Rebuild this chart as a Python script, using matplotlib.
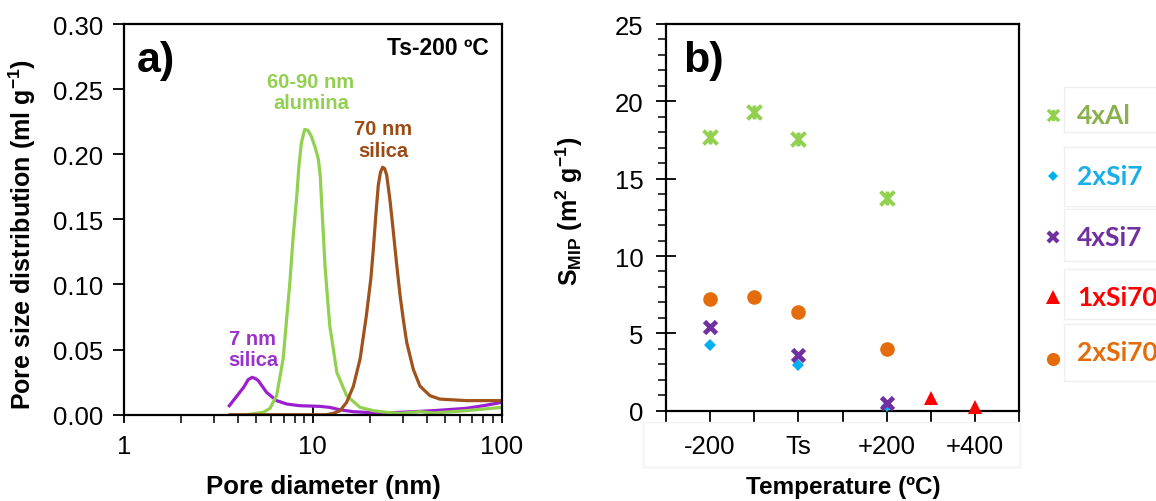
import matplotlib
matplotlib.use('Agg')
import matplotlib.pyplot as plt
from matplotlib.path import Path
from matplotlib.patches import Rectangle

plt.rcParams['font.family'] = 'Liberation Sans'
plt.rcParams['mathtext.fontset'] = 'custom'
plt.rcParams['mathtext.rm'] = 'Liberation Sans:bold'
plt.rcParams['mathtext.it'] = 'Liberation Sans:bold'
plt.rcParams['mathtext.bf'] = 'Liberation Sans:bold'
plt.rcParams['mathtext.default'] = 'rm'

# DATA #######################################################################

# panel a) pore size distributions, pore diameter (nm) vs ml/g
si7_d = [3.61, 4.3, 4.55, 4.78, 5.0, 5.15, 5.7, 6.43, 7.27, 8.55, 10.9, 12.3,
         13.9, 16.4, 19.2, 23.6, 29, 43.5, 65, 80, 100]
si7_v = [0.0069, 0.021, 0.027, 0.0287, 0.0275, 0.026, 0.017, 0.0108, 0.0082,
         0.0069, 0.0064, 0.0056, 0.0038, 0.0023, 0.0018, 0.0013, 0.0018,
         0.0031, 0.0049, 0.0069, 0.0095]

al_d = [4.46, 5.47, 5.93, 6.43, 6.96, 7.25, 7.56, 7.85, 8.2, 8.45, 8.7, 9.05,
        9.4, 9.8, 10.3, 10.7, 10.95, 11.1, 11.35, 11.6, 11.95, 12.3, 13.4,
        15.1, 17.8, 20.9, 24.6, 29, 36.9, 43.5, 65, 100]
al_v = [0.0, 0.0018, 0.0049, 0.0146, 0.043, 0.072, 0.102, 0.135, 0.166,
        0.192, 0.209, 0.219, 0.2185, 0.214, 0.205, 0.196, 0.183, 0.166, 0.14,
        0.114, 0.09, 0.068, 0.0325, 0.0146, 0.0056, 0.0031, 0.0018, 0.001,
        0.0023, 0.0013, 0.0031, 0.0056]

si70_d = [3.65, 11.8, 12.8, 13.9, 15.1, 16.4, 17.8, 19.2, 20.3, 20.9, 21.6,
          22.2, 22.8, 23.4, 24.0, 24.6, 25.6, 26.7, 27.8, 29, 30.2, 31.4, 34,
          36.9, 41.7, 47, 65, 100]
si70_v = [0.0, 0.0, 0.001, 0.003, 0.0095, 0.022, 0.043, 0.076, 0.105, 0.127,
          0.155, 0.176, 0.186, 0.19, 0.189, 0.184, 0.165, 0.14, 0.115, 0.091,
          0.072, 0.0556, 0.035, 0.022, 0.0146, 0.012, 0.0108, 0.0108]

# panel b) S_MIP (m2/g) vs temperature offset from Ts
series_names = ['4xAl', '2xSi7', '4xSi7', '1xSi70', '2xSi70']
series_t = {
    '4xAl': [-200, -100, 0, 200],
    '2xSi7': [-200, 0, 200],
    '4xSi7': [-200, 0, 200],
    '1xSi70': [300, 400],
    '2xSi70': [-200, -100, 0, 200],
}
series_s = {
    '4xAl': [17.72, 19.29, 17.56, 13.75],
    '2xSi7': [4.22, 2.97, 0.28],
    '4xSi7': [5.43, 3.62, 0.47],
    '1xSi70': [0.82, 0.24],
    '2xSi70': [7.2, 7.33, 6.36, 4.01],
}
temp_ticks = [-300, -200, -100, 0, 100, 200, 300, 400, 500]
temp_labels = ['', '-200', '', 'Ts', '', '+200', '', '+400', '']

# STYLE ######################################################################

W, H = 1156, 502
star = Path([(-1, -1), (1, 1), (-1, 1), (1, -1), (0, -1), (0, 1)],
            [Path.MOVETO, Path.LINETO, Path.MOVETO, Path.LINETO,
             Path.MOVETO, Path.LINETO])

styles = {
    '4xAl': dict(marker=star, color='#92D050', ms=10, mew=2.8, ls='none'),
    '2xSi7': dict(marker='D', color='#00B0F0', ms=6.5, mew=0, ls='none'),
    '4xSi7': dict(marker='x', color='#7030A0', ms=8.5, mew=3.4, ls='none'),
    '1xSi70': dict(marker='^', color='#FF0000', ms=10.5, mew=0, ls='none'),
    '2xSi70': dict(marker='o', color='#E46C0A', ms=10.5, mew=0, ls='none'),
}
legend_styles = {
    '4xAl': dict(marker=star, color='#92D050', ms=8, mew=2.4, ls='none'),
    '2xSi7': dict(marker='D', color='#00B0F0', ms=5.5, mew=0, ls='none'),
    '4xSi7': dict(marker='x', color='#7030A0', ms=7, mew=3, ls='none'),
    '1xSi70': dict(marker='^', color='#FF0000', ms=10, mew=0, ls='none'),
    '2xSi70': dict(marker='o', color='#E46C0A', ms=9.5, mew=0, ls='none'),
}
text_colors = {'4xAl': '#8AB04E', '2xSi7': '#19AEE8', '4xSi7': '#7030A0',
               '1xSi70': '#FF0000', '2xSi70': '#E46C0A'}


def fx(px):
    return px / W


def fy(py):
    return 1 - py / H


fig = plt.figure(figsize=(11.56, 5.02), dpi=100)

# PANEL A ####################################################################

ax1 = fig.add_axes([fx(124), fy(415.7), fx(501.7 - 124), (415.7 - 25) / H])
ax1.plot(si7_d, si7_v, color='#9B1FD1', lw=2.3)
ax1.plot(al_d, al_v, color='#92D050', lw=2.3)
ax1.plot(si70_d, si70_v, color='#A0521C', lw=2.3)
ax1.set_xscale('log')
ax1.set_xlim(1, 100)
ax1.set_ylim(0, 0.30)
ax1.set_xticks([1, 10, 100], ['1', '10', '100'])
ax1.set_yticks([0, 0.05, 0.10, 0.15, 0.20, 0.25, 0.30])
ax1.set_yticklabels(['0.00', '0.05', '0.10', '0.15', '0.20', '0.25', '0.30'])
ax1.tick_params(axis='x', which='major', direction='inout', length=12,
                width=1.3, labelsize=18.5, pad=8)
ax1.tick_params(axis='x', which='minor', direction='out', length=6, width=1.1)
ax1.tick_params(axis='y', which='major', direction='out', length=8,
                width=1.3, labelsize=18.5, pad=7)
for s in ax1.spines.values():
    s.set_linewidth(1.6)

fig.text(fx(137), fy(72), 'a)', va='baseline', fontsize=31,
         fontweight='bold')
ax1.text(0.965, 0.94, 'Ts-200 ºC', transform=ax1.transAxes, ha='right',
         va='center', fontsize=16.5, fontweight='bold')
ax1.text(9.78, 0.248, '60-90 nm\nalumina', color='#92D050', ha='center',
         va='center', fontsize=14.5, fontweight='bold', linespacing=1.15)
ax1.text(23.5, 0.2114, '70 nm\nsilica', color='#9C4A12', ha='center',
         va='center', fontsize=14.5, fontweight='bold', linespacing=1.15)
ax1.text(4.82, 0.0505, '7 nm\nsilica', color='#9933CC', ha='center',
         va='center', fontsize=14.5, fontweight='bold', linespacing=1.15)

fig.text(fx(22), fy(235), 'Pore size distribution (ml g$^{-1}$)',
         rotation=90, ha='center', va='center', fontsize=18, fontweight='bold')
fig.text(fx(323), fy(487), 'Pore diameter (nm)', ha='center', va='center',
         fontsize=18.5, fontweight='bold')

# PANEL B ####################################################################

ax2 = fig.add_axes([fx(665.7), fy(411.7), fx(1019.3 - 665.7),
                    (411.7 - 25) / H])
for name in series_names:
    ax2.plot(series_t[name], series_s[name], clip_on=False, zorder=3,
             **styles[name])
ax2.set_xlim(-300, 500)
ax2.set_ylim(0, 25)
ax2.set_xticks(temp_ticks, temp_labels)
ax2.set_yticks([0, 5, 10, 15, 20, 25])
ax2.set_yticks(range(0, 26), minor=True)
ax2.tick_params(axis='x', which='major', direction='out', length=8,
                width=1.3, labelsize=18.5, pad=9)
ax2.tick_params(axis='y', which='major', direction='inout', length=14,
                width=1.3, labelsize=18.5, pad=9)
ax2.tick_params(axis='y', which='minor', direction='out', length=6, width=1.1)
for s in ax2.spines.values():
    s.set_linewidth(1.6)

fig.text(fx(683), fy(72), 'b)', va='baseline', fontsize=31,
         fontweight='bold')
fig.text(fx(569), fy(211), 'S$_{MIP}$ (m$^{2}$ g$^{-1}$)', rotation=90,
         ha='center', va='center', fontsize=18, fontweight='bold')
fig.text(fx(843), fy(488), 'Temperature (ºC)', ha='center', va='center',
         fontsize=17.5, fontweight='bold')

# faint box around the temperature labels
fig.patches.append(Rectangle((fx(643), fy(468)), fx(1020 - 643),
                             (468 - 423) / H, transform=fig.transFigure,
                             fill=False, ec='#f2f2f2', lw=1))

# legend drawn as separate boxed entries
legend_rows = [116, 177, 238, 298, 353]
legend_boxes = [(88, 133), (148, 207), (210, 262), (270, 320), (325, 382)]
for name, yrow, (b0, b1) in zip(series_names, legend_rows, legend_boxes):
    my = yrow + 7 if name == '2xSi70' else yrow
    ax2.plot([fx(1053)], [fy(my)], transform=fig.transFigure, clip_on=False,
             **legend_styles[name])
    fig.text(fx(1077), fy(yrow), name, color=text_colors[name], ha='left',
             va='center', fontsize=19, fontweight='bold', family='Lato')
    fig.patches.append(Rectangle((fx(1064), fy(b1)), fx(1160 - 1064),
                                 (b1 - b0) / H, transform=fig.transFigure,
                                 fill=False, ec='#efefef', lw=1))

fig.savefig('out.png', dpi=100)
